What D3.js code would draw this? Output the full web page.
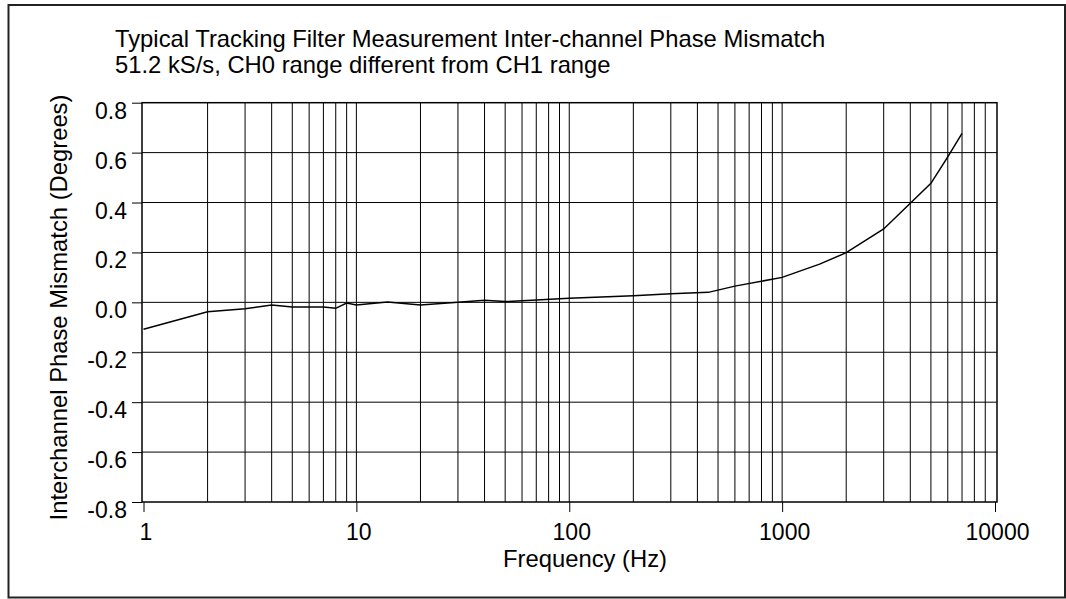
<!DOCTYPE html>
<html>
<head>
<meta charset="utf-8">
<script src="https://cdn.jsdelivr.net/npm/d3@7"></script>
<style>
  html, body { margin: 0; padding: 0; background: #fff; }
  svg { display: block; }
  text { font-family: "Liberation Sans", Arial, sans-serif; fill: #000; }
</style>
</head>
<body>
<svg id="chart" width="1066" height="599"></svg>
<script>
// ---- data ----
const titleLines = [
  "Typical Tracking Filter Measurement Inter-channel Phase Mismatch",
  "51.2 kS/s, CH0 range different from CH1 range"
];
const xLabel = "Frequency (Hz)";
const yLabel = "Interchannel Phase Mismatch (Degrees)";
const frequencies = [1, 2, 3, 4, 5, 6, 7, 8, 9, 10, 14, 20, 30, 40, 50, 100, 200, 300, 450, 600, 1000, 1500, 2000, 3000, 4000, 5000, 6000, 7000];
const phaseMismatch = [-0.108, -0.038, -0.026, -0.011, -0.019, -0.019, -0.019, -0.024, -0.003, -0.011, 0.001, -0.011, 0.0, 0.008, 0.003, 0.016, 0.026, 0.034, 0.040, 0.065, 0.100, 0.153, 0.199, 0.294, 0.397, 0.477, 0.583, 0.677];
const xTickValues = [1, 10, 100, 1000, 10000];
const xTickLabels = ["1", "10", "100", "1000", "10000"];
const yTickValues = [-0.8, -0.6, -0.4, -0.2, 0.0, 0.2, 0.4, 0.6, 0.8];
const yTickLabels = ["-0.8", "-0.6", "-0.4", "-0.2", "0.0", "0.2", "0.4", "0.6", "0.8"];

// ---- layout ----
const svg = d3.select("#chart");
const plot = { left: 142, right: 997, top: 102.7, bottom: 502 };
const FONT = "Liberation Sans, Arial, sans-serif";

const x = d3.scaleLog().domain([1, 10000]).range([143.5, 995]);
const y = d3.scaleLinear().domain([-0.8, 0.8]).range([plot.bottom, plot.top]);

// outer frame
svg.append("rect")
  .attr("x", 8.5).attr("y", 5).attr("width", 1056.5).attr("height", 592.5)
  .attr("fill", "none").attr("stroke", "#222").attr("stroke-width", 2);

// title
const title = svg.append("text").attr("font-size", 23.8);
titleLines.forEach((t, i) => {
  title.append("tspan").attr("x", 115).attr("y", 46.7 + i * 26).text(t);
});

// grid: vertical lines at every minor log step
const gridX = [];
for (let d = 1; d < 10000; d *= 10) {
  for (let m = 2; m <= 9; m++) gridX.push(d * m);
  if (d > 1) gridX.push(d);
}
svg.append("g").selectAll("line").data(gridX).join("line")
  .attr("x1", d => x(d)).attr("x2", d => x(d))
  .attr("y1", plot.top).attr("y2", plot.bottom)
  .attr("stroke", "#000").attr("stroke-width", 1);

// grid: horizontal
svg.append("g").selectAll("line").data(yTickValues.slice(1, -1)).join("line")
  .attr("x1", plot.left).attr("x2", plot.right)
  .attr("y1", d => y(d)).attr("y2", d => y(d))
  .attr("stroke", "#000").attr("stroke-width", 1);

// plot frame
svg.append("rect")
  .attr("x", plot.left).attr("y", plot.top)
  .attr("width", plot.right - plot.left).attr("height", plot.bottom - plot.top)
  .attr("fill", "none").attr("stroke", "#000").attr("stroke-width", 1.5);

// y axis (ticks outward)
const yAxis = d3.axisLeft(y).tickValues(yTickValues)
  .tickFormat((d, i) => yTickLabels[i]).tickSize(10).tickPadding(5);
const gy = svg.append("g").attr("transform", `translate(${plot.left},0)`).call(yAxis);
gy.select(".domain").remove();
gy.selectAll(".tick line").attr("stroke", "#000").attr("stroke-width", 1);
gy.selectAll(".tick text")
  .attr("font-size", 23).attr("font-family", FONT)
  .attr("fill", "#000").attr("dy", null).attr("y", 15.5).attr("x", -15);

// x axis (decade ticks downward)
const xAxis = d3.axisBottom(x).tickValues(xTickValues)
  .tickFormat((d, i) => xTickLabels[i]).tickSize(10).tickPadding(12);
const gx = svg.append("g").attr("transform", `translate(0,${plot.bottom})`).call(xAxis);
gx.select(".domain").remove();
gx.selectAll(".tick line").attr("stroke", "#000").attr("stroke-width", 1);
gx.selectAll(".tick text")
  .attr("font-size", 23).attr("font-family", FONT)
  .attr("fill", "#000").attr("dy", null).attr("y", 37.5).attr("x", 2);

// axis titles
svg.append("text")
  .attr("x", 585).attr("y", 566.7).attr("text-anchor", "middle")
  .attr("font-size", 23.8).text(xLabel);
svg.append("text")
  .attr("transform", "translate(67,307.5) rotate(-90)")
  .attr("text-anchor", "middle").attr("font-size", 23.8).text(yLabel);

// data line
const data = frequencies.map((f, i) => ({ f, v: phaseMismatch[i] }));
svg.append("path").datum(data)
  .attr("fill", "none").attr("stroke", "#000").attr("stroke-width", 1.5)
  .attr("d", d3.line().x(d => x(d.f)).y(d => y(d.v)));
</script>
</body>
</html>
